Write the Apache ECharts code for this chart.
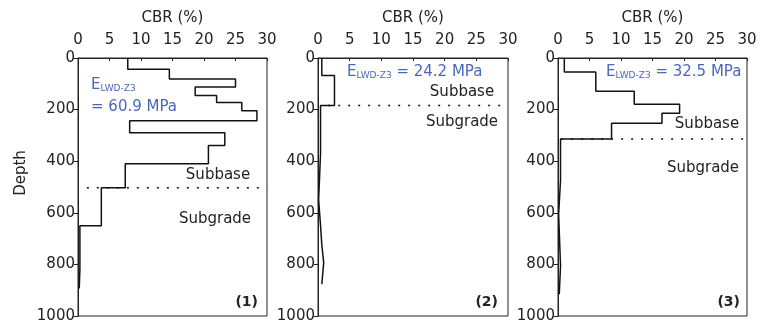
<!DOCTYPE html>
<html><head><meta charset="utf-8">
<script src="https://cdn.jsdelivr.net/npm/echarts@6/dist/echarts.min.js"></script>
<style>html,body{margin:0;padding:0;background:#fff}#c{width:768px;height:324px}</style>
</head><body><div id="c"></div>
<script>
// Layer boundaries (depth) and CBR value in each layer
var p1Depth = [0, 44, 81, 112, 145, 172, 204, 243, 290, 339, 410, 503, 650, 819, 893];
var p1CBR   = [7.9, 14.5, 25.0, 18.6, 22.0, 26.0, 28.4, 8.2, 23.3, 20.7, 7.5, 3.7, 0.3, 0.2];
var p2Depth = [0, 68, 184, 370, 550, 649, 724, 793, 877];
var p2CBR   = [0.6, 2.6, 0.4, 0.1, 0.4, 0.6, 0.9, 0.6];
var p3Depth = [0, 54, 129, 179, 214, 253, 314, 474, 606, 806, 916];
var p3CBR   = [1.0, 6.0, 12.1, 19.3, 16.5, 8.5, 0.4, 0.1, 0.4, 0.2];
var boundaryDepth = [503, 184, 314];
var boundaryStart = [1.4, 1.6, 0.5];
var eValues = ['60.9', '24.2', '32.5'];
var panelLabels = ['(1)', '(2)', '(3)'];
var xTicks = [0, 5, 10, 15, 20, 25, 30];
var yTicks = [0, 200, 400, 600, 800, 1000];

var FONT = 'DejaVu Sans';
var BLUE = '#4a68bb';
var lefts = [78, 318, 558];
var widths = [189, 190, 189];
var depths = [p1Depth, p2Depth, p3Depth];
var cbrs = [p1CBR, p2CBR, p3CBR];

function stepPts(d, c) {
  var pts = [];
  for (var i = 0; i < c.length; i++) { pts.push([c[i], d[i]]); pts.push([c[i], d[i + 1]]); }
  return pts;
}

var grids = [], xAxes = [], yAxes = [], series = [];
for (var k = 0; k < 3; k++) {
  grids.push({left: lefts[k], top: 58, width: widths[k], height: 258, show: true, borderColor: '#222', borderWidth: 1,
    containLabel: false, outerBoundsMode: 'none'});
  xAxes.push({gridIndex: k, type: 'value', position: 'top', min: xTicks[0], max: xTicks[xTicks.length - 1], interval: 5,
    name: 'CBR (%)', nameLocation: 'middle', nameGap: 32,
    nameTextStyle: {fontFamily: FONT, fontSize: 15, color: '#222'},
    axisLine: {show: true, lineStyle: {color: '#222', width: 1}},
    axisTick: {show: true, inside: true, length: 3, lineStyle: {color: '#222'}},
    axisLabel: {fontFamily: FONT, fontSize: 15, color: '#222', margin: 10},
    splitLine: {show: false}});
  yAxes.push({gridIndex: k, type: 'value', inverse: true, min: yTicks[0], max: yTicks[yTicks.length - 1], interval: 200,
    axisLine: {show: true, lineStyle: {color: '#222', width: 1}},
    axisTick: {show: true, inside: false, length: 4, lineStyle: {color: '#222'}},
    axisLabel: {fontFamily: FONT, fontSize: 15, color: '#222', margin: 3, formatter: function (v) { return String(v); }},
    splitLine: {show: false}});
  series.push({type: 'line', xAxisIndex: k, yAxisIndex: k, data: stepPts(depths[k], cbrs[k]),
    symbol: 'none', lineStyle: {color: '#111', width: 1.5}, silent: true, animation: false});
  series.push({type: 'line', xAxisIndex: k, yAxisIndex: k,
    data: [[boundaryStart[k], boundaryDepth[k]], [30, boundaryDepth[k]]],
    symbol: 'none', lineStyle: {color: '#111', width: 1.6, type: [2, 8]}, silent: true, animation: false});
}

var rich = {
  e: {fontFamily: FONT, fontSize: 15, fill: BLUE, verticalAlign: 'bottom', lineHeight: 18},
  s: {fontFamily: FONT, fontSize: 9, fill: BLUE, verticalAlign: 'bottom', lineHeight: 12}
};
function txt(x, y, text, opts) {
  var st = {x: x, y: y, text: text, fontFamily: FONT, fontSize: 15, fill: '#222', align: 'left', verticalAlign: 'middle'};
  for (var key in opts) st[key] = opts[key];
  return {type: 'text', style: st, silent: true};
}
var graphics = [
  {type: 'text', x: 21, y: 173, rotation: Math.PI / 2, style: {text: 'Depth', fontFamily: FONT, fontSize: 15, fill: '#222', align: 'center', verticalAlign: 'middle'}},
  txt(91, 84, '{e|E}{s|LWD-Z3}', {rich: rich, fill: BLUE}),
  txt(91, 107, '= ' + eValues[0] + ' MPa', {fill: BLUE}),
  txt(347, 71, '{e|E}{s|LWD-Z3}{e| = ' + eValues[1] + ' MPa}', {rich: rich, fill: BLUE}),
  txt(606, 71, '{e|E}{s|LWD-Z3}{e| = ' + eValues[2] + ' MPa}', {rich: rich, fill: BLUE}),
  txt(218, 175, 'Subbase', {align: 'center'}),
  txt(215, 219, 'Subgrade', {align: 'center'}),
  txt(462, 92, 'Subbase', {align: 'center'}),
  txt(462, 122, 'Subgrade', {align: 'center'}),
  txt(707, 124, 'Subbase', {align: 'center'}),
  txt(703, 168, 'Subgrade', {align: 'center'}),
  txt(258, 302, panelLabels[0], {align: 'right', fontWeight: 'bold', fontSize: 14}),
  txt(498, 302, panelLabels[1], {align: 'right', fontWeight: 'bold', fontSize: 14}),
  txt(740, 302, panelLabels[2], {align: 'right', fontWeight: 'bold', fontSize: 14})
];

var chart = echarts.init(document.getElementById('c'), null, {renderer: 'canvas'});
chart.setOption({animation: false, backgroundColor: '#fff', grid: grids, xAxis: xAxes, yAxis: yAxes, series: series, graphic: graphics});
</script></body></html>
